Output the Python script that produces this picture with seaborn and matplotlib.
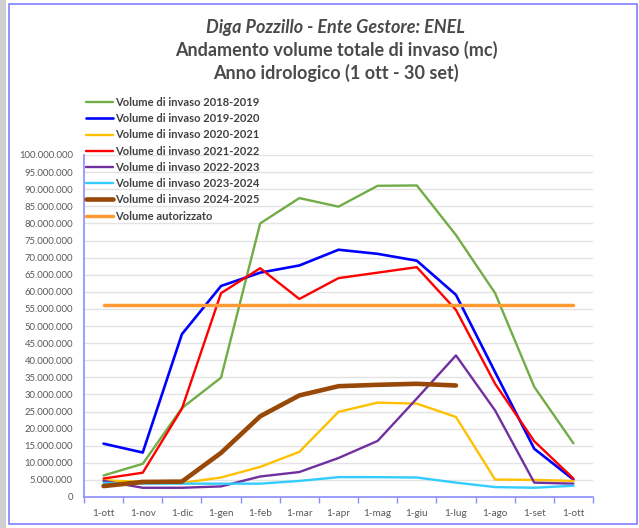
import numpy as np
import pandas as pd
import matplotlib
matplotlib.use("Agg")
import matplotlib.pyplot as plt
import matplotlib.ticker as mticker
from matplotlib.patches import Rectangle
import seaborn as sns

months = ["1-ott", "1-nov", "1-dic", "1-gen", "1-feb", "1-mar", "1-apr",
          "1-mag", "1-giu", "1-lug", "1-ago", "1-set", "1-ott"]

v2018_2019 = [6.3, 9.7, 26.0, 34.9, 80.0, 87.4, 84.9, 91.0, 91.1, 76.6, 59.6, 32.2, 15.7]
v2019_2020 = [15.6, 13.0, 47.6, 61.7, 65.6, 67.7, 72.3, 71.1, 69.1, 59.1, 36.5, 14.1, 5.1]
v2020_2021 = [4.9, 4.4, 4.1, 5.7, 8.8, 13.2, 24.9, 27.6, 27.3, 23.4, 5.1, 5.0, 4.7]
v2021_2022 = [5.4, 7.1, 25.8, 59.6, 66.9, 57.9, 64.0, 65.6, 67.2, 54.7, 33.1, 16.3, 5.4]
v2022_2023 = [4.7, 2.7, 2.7, 3.1, 6.0, 7.3, 11.4, 16.4, 28.8, 41.4, 25.3, 4.2, 3.9]
v2023_2024 = [4.1, 3.9, 3.9, 3.9, 3.9, 4.7, 5.8, 5.8, 5.7, 4.2, 2.9, 2.7, 3.3]
v2024_2025 = [3.2, 4.4, 4.5, 12.9, 23.6, 29.7, 32.4, 32.8, 33.1, 32.6]
v_autorizzato = [56.2] * 13

series = [
    ("Volume di invaso 2018-2019", v2018_2019, "#70AD47", 1.7),
    ("Volume di invaso 2019-2020", v2019_2020, "#0000FF", 1.9),
    ("Volume di invaso 2020-2021", v2020_2021, "#FFC000", 1.7),
    ("Volume di invaso 2021-2022", v2021_2022, "#FF0000", 1.7),
    ("Volume di invaso 2022-2023", v2022_2023, "#7030A0", 1.7),
    ("Volume di invaso 2023-2024", v2023_2024, "#33CCFF", 1.7),
    ("Volume di invaso 2024-2025", v2024_2025, "#984807", 3.3),
    ("Volume autorizzato", v_autorizzato, "#FF9933", 2.5),
]

sns.set_theme(style="white")
plt.rcParams["font.family"] = ["Lato", "DejaVu Sans"]

fig = plt.figure(figsize=(6.39, 5.28), dpi=100)
fig.patch.set_facecolor("white")
ax = fig.add_axes([84 / 639, 31 / 528, (593 - 84) / 639, (497 - 155) / 528])

for name, vals, col, lw in series:
    df = pd.DataFrame({"x": np.arange(len(vals)), "y": np.array(vals) * 1e6})
    sns.lineplot(data=df, x="x", y="y", ax=ax, color=col, linewidth=lw,
                 label=name, legend=False)

ax.set_xlim(-0.5, 12.5)
ax.set_ylim(0, 100e6)
ax.yaxis.set_major_locator(mticker.MultipleLocator(5e6))
ax.yaxis.set_major_formatter(mticker.FuncFormatter(
    lambda v, p: f"{int(round(v)):,}".replace(",", ".")))
ax.set_xticks(np.arange(13))
ax.set_xticklabels(months)
ax.set_xticks(np.arange(-0.5, 13, 1), minor=True)
ax.set_xlabel("")
ax.set_ylabel("")
ax.grid(axis="y", color="#E3E3E3", linewidth=1)
ax.set_axisbelow(True)

axis_col = "#8C8CFF"
for s in ["top", "right"]:
    ax.spines[s].set_visible(False)
for s in ["left", "bottom"]:
    ax.spines[s].set_color(axis_col)
    ax.spines[s].set_linewidth(1.2)
ax.tick_params(axis="x", which="major", length=0, pad=9, labelsize=7.2, labelcolor="#595959")
ax.tick_params(axis="x", which="minor", length=4, color=axis_col, width=1, direction="out")
ax.tick_params(axis="y", which="major", length=4, color=axis_col, width=1, direction="out",
               labelsize=6.8, labelcolor="#595959", pad=4)
ax.tick_params(axis="x", which="minor", bottom=True)

handles, labels = ax.get_legend_handles_labels()
leg = fig.legend(handles, labels, loc="upper left", bbox_to_anchor=(86 / 639, 1 - 97 / 528),
                 frameon=False, fontsize=8, handlelength=2.4, handletextpad=0.2,
                 labelspacing=0.47, borderaxespad=0, borderpad=0)
for t in leg.get_texts():
    t.set_color("#404040")
    t.set_fontweight("bold")

cx = 336 / 639
fig.text(cx, 1 - 27 / 528, "Diga Pozzillo - Ente Gestore: ENEL", ha="center", va="center",
         fontsize=13, fontweight="bold", style="italic", color="#4A4A4A")
fig.text(cx, 1 - 50 / 528, "Andamento volume totale di invaso (mc)", ha="center", va="center",
         fontsize=13, fontweight="bold", color="#4A4A4A")
fig.text(cx, 1 - 73 / 528, "Anno idrologico (1 ott - 30 set)", ha="center", va="center",
         fontsize=13, fontweight="bold", color="#4A4A4A")

fig.patches.append(Rectangle((0, 0), 6 / 639, 1, transform=fig.transFigure,
                             facecolor="#CFCFCF", edgecolor="none", zorder=0))
fig.patches.append(Rectangle((9 / 639, 4 / 528), 628 / 639, 520 / 528, transform=fig.transFigure,
                             facecolor="none", edgecolor="#8080FF", linewidth=1.2, zorder=5))

fig.savefig("out.png", dpi=100)
